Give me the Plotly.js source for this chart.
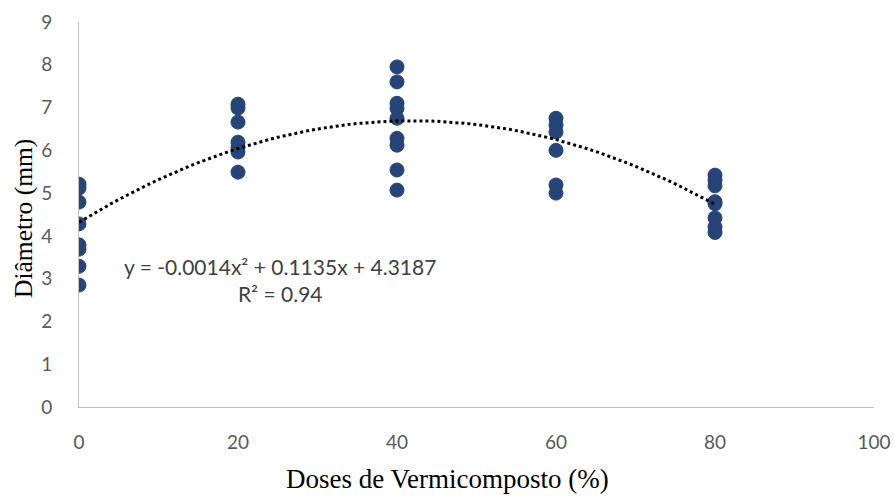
<!DOCTYPE html>
<html>
<head>
<meta charset="utf-8">
<script src="https://cdn.plot.ly/plotly-3.0.1.min.js"></script>
<style>html,body{margin:0;padding:0;background:#fff;}#chart{width:895px;height:497px;}</style>
</head>
<body>
<div id="chart"></div>
<script>
const dose0 = [5.21, 5.12, 4.79, 4.28, 3.79, 3.69, 3.29, 2.85];
const dose20 = [7.08, 6.99, 6.66, 6.19, 6.07, 5.96, 5.49];
const dose40 = [7.95, 7.6, 7.1, 6.98, 6.75, 6.28, 6.12, 5.54, 5.07];
const dose60 = [6.75, 6.59, 6.43, 6.0, 5.19, 5.0];
const dose80 = [5.42, 5.3, 5.17, 4.8, 4.75, 4.42, 4.21, 4.08];
const doses = [0, 20, 40, 60, 80];
const groups = [dose0, dose20, dose40, dose60, dose80];
// trendline coefficients as drawn (label shows rounded values)
const trendCoef = {a: -0.00135, b: 0.1132, c: 4.3187};
const trendRange = [0, 80];
const xTicks = [0, 20, 40, 60, 80, 100];
const yTicks = [0, 1, 2, 3, 4, 5, 6, 7, 8, 9];
const eqText = 'y = -0.0014x² + 0.1135x + 4.3187';
const r2Text = 'R² = 0.94';
const xTitle = 'Doses de Vermicomposto (%)';
const yTitle = 'Diâmetro (mm)';

const xs = [], ys = [];
groups.forEach((g, i) => g.forEach(v => { xs.push(doses[i]); ys.push(v); }));

const tx = [], ty = [];
for (let x = trendRange[0]; x <= trendRange[1]; x += 1) { tx.push(x); ty.push(trendCoef.a*x*x + trendCoef.b*x + trendCoef.c); }

const tickFont = {family: 'Lato, "Liberation Sans", Arial, sans-serif', size: 19, color: '#595959'};
const serif = '"Liberation Serif", "Times New Roman", serif';

const data = [
  {x: xs, y: ys, type: 'scatter', mode: 'markers', marker: {color: '#264478', size: 14, line: {color: '#264478', width: 1}}, hoverinfo: 'x+y'},
  {x: tx, y: ty, type: 'scatter', mode: 'lines', line: {color: '#000', width: 3, dash: 'dot'}, hoverinfo: 'skip'}
];

const L = 79, T = 22, W = 895, H = 497;
const pw = W - L - 21, ph = H - T - 90;
const px = v => (v - L) / pw;
const py = v => (T + ph - v) / ph;
const layout = {
  width: W, height: H,
  margin: {l: L, r: 21, t: T, b: 90},
  paper_bgcolor: '#fff', plot_bgcolor: '#fff',
  showlegend: false,
  xaxis: {
    range: [0, 100], tickvals: xTicks, showgrid: false, zeroline: false,
    showline: true, linecolor: '#bfbfbf', linewidth: 1,
    ticks: 'outside', ticklen: 0, ticklabelstandoff: 18,
    tickfont: tickFont
  },
  yaxis: {
    range: [0, 9], tickvals: yTicks, showgrid: false, zeroline: false,
    showline: true, linecolor: '#bfbfbf', linewidth: 1,
    ticks: 'outside', ticklen: 0, ticklabelstandoff: 22,
    tickfont: tickFont
  },
  annotations: [
    {x: px(280), y: py(280), xref: 'paper', yref: 'paper', xanchor: 'center', yanchor: 'middle',
     text: eqText + '<br>' + r2Text, showarrow: false,
     font: {family: 'Lato, "Liberation Sans", Arial, sans-serif', size: 21, color: '#404040'}, align: 'center'},
    {x: px(447), y: py(496), xref: 'paper', yref: 'paper', xanchor: 'center', yanchor: 'bottom',
     text: xTitle, showarrow: false, font: {family: serif, size: 27, color: '#000'}},
    {x: px(23), y: py(219), xref: 'paper', yref: 'paper', xanchor: 'center', yanchor: 'middle',
     text: yTitle, textangle: -90, showarrow: false, font: {family: serif, size: 25.5, color: '#000'}}
  ]
};
Plotly.newPlot('chart', data, layout, {displayModeBar: false});
</script>
</body>
</html>
